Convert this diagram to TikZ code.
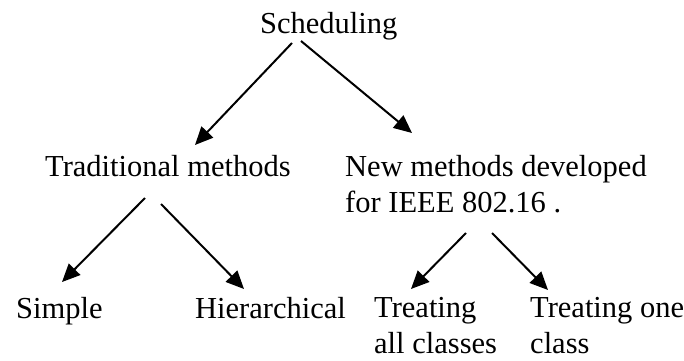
\documentclass[tikz,border=0pt]{standalone}
\usepackage{fontspec}
\setmainfont{Liberation Serif}
\usetikzlibrary{arrows.meta}
\begin{document}
\begin{tikzpicture}[x=1pt,y=1pt,
  lbl/.style={inner sep=0pt,anchor=base west,align=left,
    font=\fontsize{30.5}{35.5}\selectfont},
  arr/.style={line width=2pt,-{Triangle[length=18pt,width=16pt]}}]
\useasboundingbox (0,0) rectangle (684,360);
\node[lbl] (sched) at (260,327) {Scheduling};
\node[lbl] (trad) at (45,184) {Traditional methods};
\node[lbl] (new) at (345,148) {New methods developed\\for IEEE 802.16 .};
\node[lbl] (simple) at (16,42) {Simple};
\node[lbl] (hier) at (195,42) {Hierarchical};
\node[lbl] (tall) at (374,7) {Treating\\all classes};
\node[lbl] (tone) at (530,7) {Treating one\\class};
\coordinate (s1) at (292,317); \coordinate (e1) at (195,215);
\coordinate (s2) at (301,319); \coordinate (e2) at (412,227);
\coordinate (s3) at (145,162); \coordinate (e3) at (62,78);
\coordinate (s4) at (161,156); \coordinate (e4) at (244,71);
\coordinate (s5) at (466,127); \coordinate (e5) at (411,71);
\coordinate (s6) at (492,127); \coordinate (e6) at (548,70);
\draw[arr] (s1) -- (e1);
\draw[arr] (s2) -- (e2);
\draw[arr] (s3) -- (e3);
\draw[arr] (s4) -- (e4);
\draw[arr] (s5) -- (e5);
\draw[arr] (s6) -- (e6);
\end{tikzpicture}
\end{document}
